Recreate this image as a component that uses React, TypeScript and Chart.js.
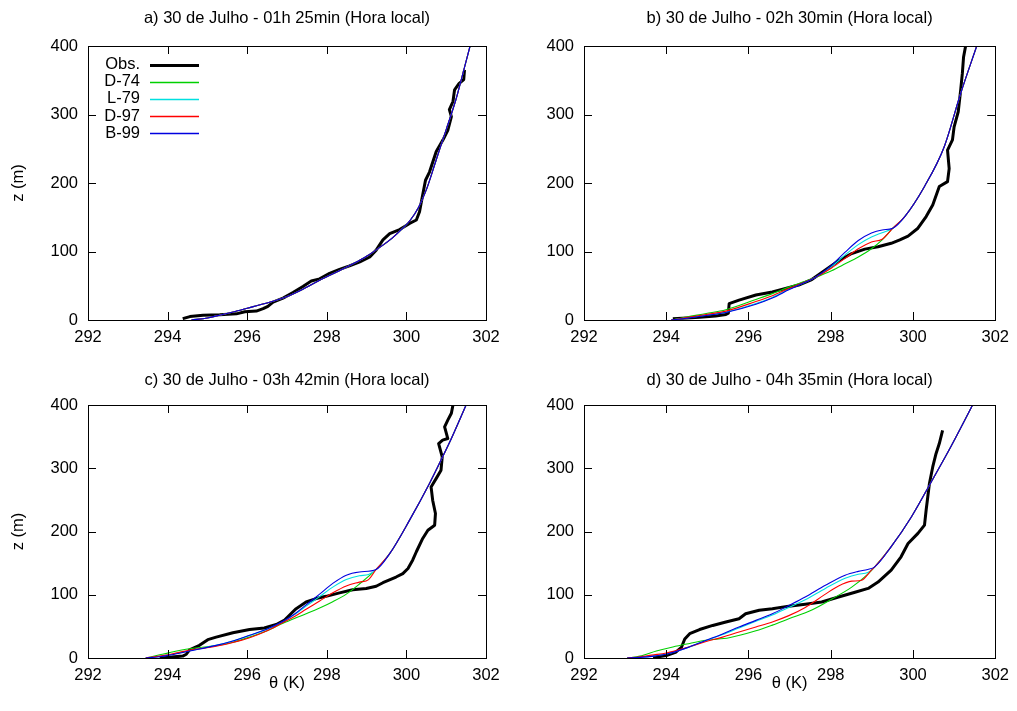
import React, { useEffect, useRef } from "react";
import { Chart, registerables } from "chart.js";
Chart.register(...registerables);

type Pt = [number, number];

const FONT = "'Liberation Sans', Arial, Helvetica, sans-serif";
const FS = 16.5;

const xTickValues = [292, 294, 296, 298, 300, 302];
const yTickValues = [0, 100, 200, 300, 400];
const seriesNames = ["Obs.", "D-74", "L-79", "D-97", "B-99"];
const seriesColors = ["#000000", "#00d000", "#00e0e0", "#ff0000", "#0000e0"];
const panelTitles = [
  "a) 30 de Julho - 01h 25min (Hora local)",
  "b) 30 de Julho - 02h 30min (Hora local)",
  "c) 30 de Julho - 03h 42min (Hora local)",
  "d) 30 de Julho - 04h 35min (Hora local)",
];
const xAxisTitle = "θ (K)";
const yAxisTitle = "z (m)";

// ---------- Panel a ----------
const obsA: Pt[] = [[294.38,2],[294.56,5],[294.89,7],[295.31,7.5],[295.73,9],[295.94,12],[296.23,13],[296.4,16.5],[296.52,20],[296.65,26],[296.9,32],[297.15,40],[297.4,49],[297.61,57],[297.82,60],[298.07,68],[298.32,74],[298.57,79],[298.83,85],[299.08,92],[299.24,102],[299.41,117],[299.58,126],[299.83,132],[300.08,141],[300.25,146],[300.33,158],[300.4,180],[300.48,204],[300.58,216],[300.75,246],[300.92,263],[301.04,277],[301.13,297],[301.08,307],[301.17,319],[301.21,336],[301.32,345],[301.44,351],[301.46,365]];
const modelA: Pt[] = [[294.6,0],[295.0,3],[295.31,7],[295.7,12.5],[296.15,19.5],[296.6,26.5],[296.99,34],[297.4,45],[297.82,58],[298.25,70],[298.66,82],[299.0,93],[299.33,106],[299.65,120],[299.91,134],[300.1,146],[300.3,164],[300.5,190],[300.75,234],[301.0,278],[301.25,323],[301.42,360],[301.6,400]];

// ---------- Panel b ----------
const obsB: Pt[] = [[294.16,2],[294.5,3],[294.81,4],[295.2,6],[295.45,8],[295.51,10],[295.53,24],[295.77,29],[296.18,36.5],[296.58,41],[296.9,46],[297.22,51],[297.54,59],[297.87,73],[298.19,86.5],[298.51,97],[298.83,103.5],[299.15,107],[299.47,112],[299.68,117],[299.88,122.5],[300.12,134],[300.32,151],[300.48,168],[300.64,195],[300.84,202],[300.88,221],[300.84,248],[300.96,263],[301.0,282],[301.1,304],[301.16,336],[301.2,360],[301.23,384],[301.28,400]];
const d74LowB: Pt[] = [[294.12,0],[294.5,4.5],[294.97,9.5],[295.45,15],[296.18,30],[296.58,38.5],[296.98,48],[297.3,55],[297.62,62],[298.02,72],[298.35,82],[298.67,92],[298.99,104],[299.25,117]];
const l79LowB: Pt[] = [[294.12,0],[294.5,3],[294.97,7],[295.45,11.5],[296.18,24],[296.58,33],[296.98,45],[297.3,53],[297.62,62],[298.02,78],[298.35,95],[298.67,110],[298.99,121],[299.25,127.5]];
const d97LowB: Pt[] = [[294.12,0],[294.5,3.5],[294.97,8],[295.45,13],[296.18,27],[296.58,35.5],[296.98,46],[297.3,53.5],[297.62,62],[298.02,76],[298.35,90],[298.67,104],[298.99,114],[299.25,118]];
const b99LowB: Pt[] = [[294.12,0],[294.5,2.5],[294.97,6.5],[295.45,11],[296.18,23],[296.58,32],[296.98,44],[297.3,53],[297.62,62],[298.02,80],[298.35,99],[298.67,116],[298.99,127],[299.25,131.5]];
const upperB: Pt[] = [[299.51,134],[299.8,151],[300.28,195],[300.76,253],[301.16,331],[301.55,400]];

// ---------- Panel c ----------
const obsC: Pt[] = [[293.8,0.5],[294.1,1.5],[294.38,3],[294.47,6],[294.55,13],[294.8,20],[295.01,29],[295.22,33],[295.64,40],[296.06,45],[296.43,47.5],[296.73,53],[296.94,60],[297.06,67.5],[297.23,78],[297.48,88.5],[297.73,94],[297.98,97.5],[298.32,103],[298.65,108],[298.99,110],[299.24,113.5],[299.41,119],[299.74,128],[299.91,133.5],[300.04,141.5],[300.16,155],[300.25,168],[300.41,189],[300.54,202],[300.71,210],[300.73,228.5],[300.66,249.5],[300.62,270.5],[300.75,284],[300.87,297],[300.9,318],[300.81,339],[300.91,344.5],[301.04,347],[300.96,365.5],[301.04,376],[301.13,387],[301.17,400]];
const d74LowC: Pt[] = [[293.45,0],[293.8,5],[294.05,8.5],[294.55,14.5],[295.22,19.5],[295.64,25],[296.06,33],[296.5,43],[296.9,55],[297.2,63],[297.48,70],[297.82,79],[298.15,89],[298.49,101],[298.82,117]];
const l79LowC: Pt[] = [[293.45,0],[293.8,2.5],[294.05,5],[294.55,11.5],[295.22,20],[295.64,27],[296.06,35.5],[296.5,45.5],[296.9,57.5],[297.2,69],[297.48,82],[297.82,97],[298.15,112],[298.49,124],[298.82,130],[299.05,132]];
const d97LowC: Pt[] = [[293.45,0],[293.8,3],[294.05,5.5],[294.55,12.5],[295.22,18.5],[295.64,24.5],[296.06,32],[296.5,43],[296.9,56],[297.2,66],[297.48,77],[297.82,90],[298.15,103],[298.49,114],[298.82,120],[299.05,124]];
const b99LowC: Pt[] = [[293.45,0],[293.8,2],[294.05,4.5],[294.55,11],[295.22,20],[295.64,27],[296.06,36],[296.5,46],[296.9,58],[297.2,70],[297.48,84],[297.82,101],[298.15,118],[298.49,131],[298.82,136]];
const upperC: Pt[] = [[299.24,140],[299.58,165],[300.08,218],[300.58,276],[300.91,318],[301.13,347],[301.5,400]];

// ---------- Panel d ----------
const obsD: Pt[] = [[293.68,0.5],[294.0,4],[294.24,9.5],[294.37,17],[294.45,30],[294.57,38.5],[294.81,45],[295.13,51.5],[295.45,57],[295.77,62],[295.93,70],[296.26,75.5],[296.58,78],[296.98,82],[297.38,85],[297.78,88.5],[298.19,96.5],[298.59,104],[298.91,110],[299.15,120],[299.47,139],[299.71,160],[299.88,181],[300.12,197],[300.28,210],[300.32,234],[300.36,255],[300.4,276],[300.48,302],[300.56,323],[300.64,339],[300.72,360]];
const d74LowD: Pt[] = [[293.05,0],[293.36,3],[293.76,11],[294.16,17.5],[294.57,23],[294.97,28],[295.53,32],[296.18,43],[296.58,52],[296.98,62],[297.54,76],[298.02,93],[298.51,112],[298.91,133]];
const l79LowD: Pt[] = [[293.05,0],[293.36,1.2],[293.7,3.3],[294.0,6.3],[294.5,16],[294.97,27.5],[295.37,37],[295.77,47.5],[296.18,58],[296.58,68],[296.98,80],[297.38,92],[297.87,110],[298.35,126],[298.67,132.5],[298.9,135]];
const d97LowD: Pt[] = [[293.05,0],[293.36,2],[293.7,5],[294.0,8],[294.5,16.5],[294.97,26],[295.37,33],[295.77,41],[296.18,49],[296.58,57],[296.98,67],[297.38,80],[297.87,101],[298.19,114],[298.51,121.5],[298.75,123],[298.99,139]];
const b99LowD: Pt[] = [[293.05,0],[293.36,1],[293.7,3],[294.0,6],[294.5,16],[294.97,28],[295.37,38],[295.77,49],[296.18,59.5],[296.58,70],[296.98,83],[297.38,96.5],[297.87,115],[298.35,131],[298.67,137],[298.9,140]];
const upperD: Pt[] = [[299.07,144],[299.47,176],[299.96,223],[300.44,278],[300.92,334],[301.45,400]];

const panelSeries: Pt[][][] = [
  [obsA, modelA, modelA, modelA, modelA],
  [obsB, [...d74LowB, ...upperB], [...l79LowB, ...upperB], [...d97LowB, ...upperB], [...b99LowB, ...upperB]],
  [obsC, [...d74LowC, ...upperC], [...l79LowC, ...upperC], [...d97LowC, ...upperC], [...b99LowC, ...upperC]],
  [obsD, [...d74LowD, ...upperD], [...l79LowD, ...upperD], [...d97LowD, ...upperD], [...b99LowD, ...upperD]],
];

type Layout = {
  left: number; top: number; width: number; height: number;
  yW: number; padTop: number; padRight: number; xH: number; titleY: number;
  yTitle: boolean; xTitle: boolean; legend: boolean;
};

const layouts: Layout[] = [
  { left: 0, top: 0, width: 508, height: 355, yW: 88, padTop: 46, padRight: 22, xH: 35, titleY: 18.5, yTitle: true, xTitle: false, legend: true },
  { left: 508, top: 0, width: 509, height: 355, yW: 76, padTop: 46, padRight: 20, xH: 35, titleY: 18.5, yTitle: false, xTitle: false, legend: false },
  { left: 0, top: 355, width: 508, height: 356, yW: 88, padTop: 50, padRight: 22, xH: 53, titleY: 25.5, yTitle: true, xTitle: true, legend: false },
  { left: 508, top: 355, width: 509, height: 356, yW: 76, padTop: 50, padRight: 20, xH: 53, titleY: 25.5, yTitle: false, xTitle: true, legend: false },
];

function Panel({ idx }: { idx: number }) {
  const ref = useRef<HTMLCanvasElement>(null);
  const L = layouts[idx];
  useEffect(() => {
    const canvas = ref.current!;
    const series = panelSeries[idx];
    const framePlugin = {
      id: "frame" + idx,
      afterDraw(chart: any) {
        const { ctx, chartArea: a, scales } = chart;
        ctx.save();
        ctx.strokeStyle = "#000";
        ctx.lineWidth = 1;
        ctx.beginPath();
        const T = 8;
        for (const v of xTickValues) {
          const px = Math.round(scales.x.getPixelForValue(v)) + 0.5;
          ctx.moveTo(px, a.bottom); ctx.lineTo(px, a.bottom - T);
          ctx.moveTo(px, a.top); ctx.lineTo(px, a.top + T);
        }
        for (const v of yTickValues) {
          const py = Math.round(scales.y.getPixelForValue(v)) + 0.5;
          ctx.moveTo(a.left, py); ctx.lineTo(a.left + T, py);
          ctx.moveTo(a.right, py); ctx.lineTo(a.right - T, py);
        }
        ctx.stroke();
        ctx.strokeRect(Math.round(a.left) + 0.5, Math.round(a.top) + 0.5, Math.round(a.right - a.left), Math.round(a.bottom - a.top));
        // title
        ctx.fillStyle = "#000";
        ctx.font = `${FS}px ${FONT}`;
        ctx.textAlign = "center";
        ctx.textBaseline = "middle";
        ctx.fillText(panelTitles[idx], (a.left + a.right) / 2, L.titleY);
        // legend
        if (L.legend) {
          ctx.textAlign = "right";
          for (let i = 0; i < seriesNames.length; i++) {
            const y = 64.5 + i * 17.2;
            ctx.fillText(seriesNames[i], 140, y);
            ctx.beginPath();
            ctx.strokeStyle = seriesColors[i];
            ctx.lineWidth = i === 0 ? 3 : 1.5;
            ctx.moveTo(150, Math.round(y) + 0.5);
            ctx.lineTo(199, Math.round(y) + 0.5);
            ctx.stroke();
          }
        }
        ctx.restore();
      },
    };
    const chart = new Chart(canvas, {
      type: "line",
      data: {
        datasets: series.map((pts, i) => ({
          label: seriesNames[i],
          data: pts.map(([x, y]) => ({ x, y })),
          borderColor: seriesColors[i],
          backgroundColor: seriesColors[i],
          borderWidth: i === 0 ? 3 : 1.1,
          pointRadius: 0,
          fill: false,
          tension: 0,
          cubicInterpolationMode: i === 0 ? "default" : "monotone",
          borderJoinStyle: "round",
          order: 5 - i,
        })),
      },
      options: {
        animation: false,
        responsive: false,
        maintainAspectRatio: false,
        devicePixelRatio: 1,
        layout: { padding: { top: L.padTop, right: L.padRight, bottom: 0, left: 0 } },
        plugins: { legend: { display: false }, tooltip: { enabled: false }, title: { display: false } },
        scales: {
          x: {
            type: "linear",
            min: 292,
            max: 302,
            afterBuildTicks: (s: any) => { s.ticks = xTickValues.map((v) => ({ value: v })); },
            afterFit: (s: any) => { s.height = L.xH; },
            ticks: { color: "#000", font: { family: FONT, size: FS }, padding: 8, maxRotation: 0, autoSkip: false },
            grid: { display: false, drawTicks: false },
            border: { display: false },
            title: { display: L.xTitle, text: xAxisTitle, color: "#000", font: { family: FONT, size: FS }, padding: { top: 0, bottom: 18 } },
          },
          y: {
            type: "linear",
            min: 0,
            max: 400,
            afterBuildTicks: (s: any) => { s.ticks = yTickValues.map((v) => ({ value: v })); },
            afterFit: (s: any) => { s.width = L.yW; },
            ticks: { color: "#000", font: { family: FONT, size: FS }, padding: 10, autoSkip: false },
            grid: { display: false, drawTicks: false },
            border: { display: false },
            title: { display: L.yTitle, text: yAxisTitle, color: "#000", font: { family: FONT, size: FS }, padding: { top: 9, bottom: 0 } },
          },
        },
      } as any,
      plugins: [framePlugin],
    });
    return () => chart.destroy();
  }, [idx]);
  return (
    <canvas
      ref={ref}
      width={L.width}
      height={L.height}
      style={{ position: "absolute", left: L.left, top: L.top, width: L.width, height: L.height }}
    />
  );
}

export default function App() {
  return (
    <div style={{ position: "absolute", left: 0, top: 0, width: 1017, height: 711, background: "#fff", overflow: "hidden" }}>
      {[0, 1, 2, 3].map((i) => (
        <Panel key={i} idx={i} />
      ))}
    </div>
  );
}
